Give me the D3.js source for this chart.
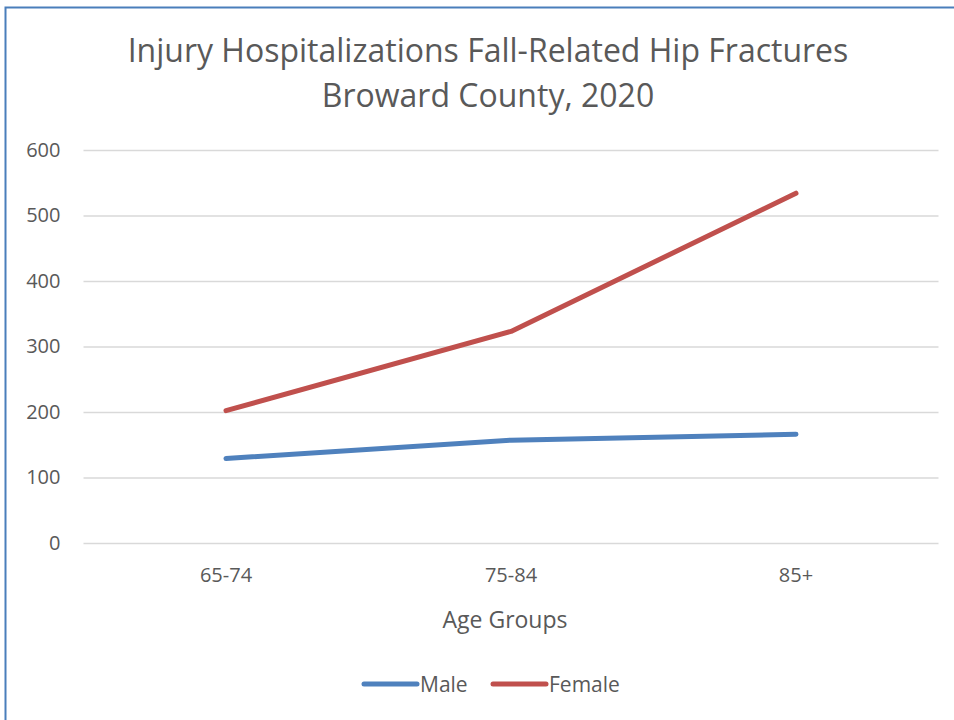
<!DOCTYPE html>
<html><head><meta charset="utf-8">
<script src="https://cdn.jsdelivr.net/npm/d3@7"></script>
<style>body{margin:0;background:#fff}svg{display:block}text{font-family:"Open Sans","Noto Sans",sans-serif}</style>
</head><body><svg id="c" width="954" height="720"></svg>
<script>
const categories = ["65-74", "75-84", "85+"];
const maleValues = [129, 157, 166];
const femaleValues = [202, 323, 534];
const yTicks = [0, 100, 200, 300, 400, 500, 600];
const seriesNames = ["Male", "Female"];
const seriesColors = ["#4f81bd", "#c0504d"];

const svg = d3.select("#c");
const W = 954, H = 720;
const m = {left: 83.5, right: 938.5, top: 150, bottom: 543};

// chart frame border
svg.append("path").attr("d", `M5.5,${H} L5.5,7.5 L${W},7.5`)
  .attr("fill", "none").attr("stroke", "#4a7ebb").attr("stroke-width", 2);

// title
const title = svg.append("text").attr("text-anchor", "middle").attr("fill", "#595959")
  .style("font-size", "32px");
title.append("tspan").attr("x", 488).attr("y", 62).text("Injury Hospitalizations Fall-Related Hip Fractures");
title.append("tspan").attr("x", 488).attr("y", 107).text("Broward County, 2020");

const x = d3.scaleBand().domain(categories).range([m.left, m.right]);
const y = d3.scaleLinear().domain([0, 600]).range([m.bottom, m.top]);

// gridlines + y axis
const yAxis = d3.axisLeft(y).tickValues(yTicks).tickSize(-(m.right - m.left)).tickPadding(23);
const gy = svg.append("g").attr("transform", `translate(${m.left},0)`).call(yAxis);
gy.select(".domain").remove();
gy.selectAll(".tick line").attr("stroke", "#d9d9d9").attr("stroke-width", 1.5);
gy.selectAll(".tick text").attr("fill", "#595959").style("font-size", "20px")
  .style("font-family", '"Open Sans","Noto Sans",sans-serif');

// x axis labels
const xAxis = d3.axisBottom(x).tickSize(0).tickPadding(25);
const gx = svg.append("g").attr("transform", `translate(0,${m.bottom})`).call(xAxis);
gx.select(".domain").remove();
gx.selectAll(".tick text").attr("fill", "#595959").style("font-size", "20px")
  .style("font-family", '"Open Sans","Noto Sans",sans-serif');

svg.append("text").attr("x", 505).attr("y", 628).attr("text-anchor", "middle")
  .attr("fill", "#595959").style("font-size", "23px").text("Age Groups");

// lines
const line = d3.line().x((d, i) => x(categories[i]) + x.bandwidth() / 2).y(d => y(d));
[maleValues, femaleValues].forEach((vals, k) => {
  svg.append("path").datum(vals).attr("d", line).attr("fill", "none")
    .attr("stroke", seriesColors[k]).attr("stroke-width", 5)
    .attr("stroke-linecap", "round").attr("stroke-linejoin", "round");
});

// legend
const legX = [364, 493];
seriesNames.forEach((n, k) => {
  const g = svg.append("g").attr("transform", `translate(${legX[k]},684)`);
  g.append("line").attr("x1", 0).attr("x2", 53).attr("y1", 0).attr("y2", 0)
    .attr("stroke", seriesColors[k]).attr("stroke-width", 5).attr("stroke-linecap", "round");
  g.append("text").attr("x", 56).attr("y", 8).attr("fill", "#595959")
    .style("font-size", "21px").text(n);
});
</script></body></html>
